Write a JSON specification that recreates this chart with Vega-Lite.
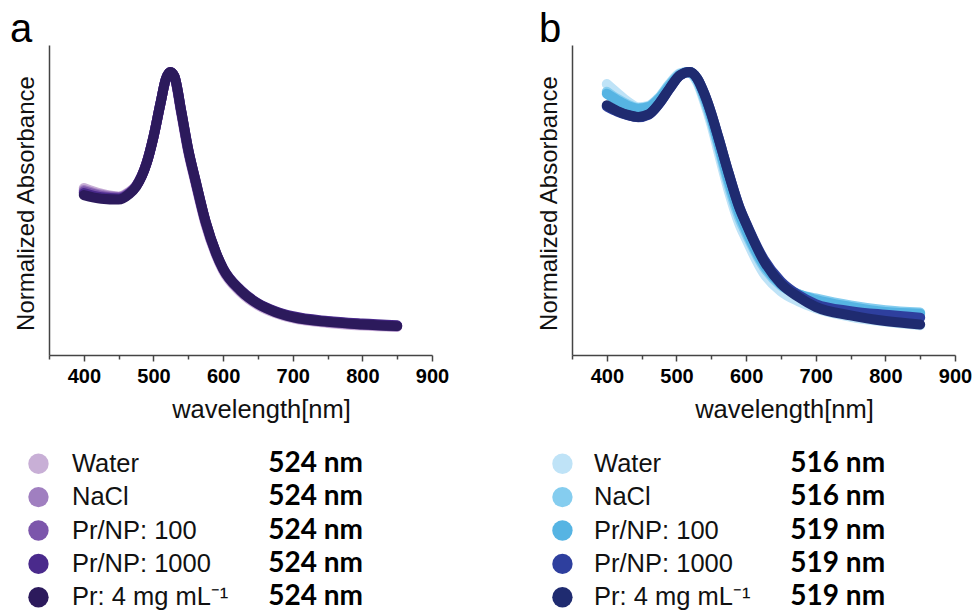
{
  "$schema": "https://vega.github.io/schema/vega-lite/v6.json",
  "padding": {"left": 10, "top": 10, "right": 0, "bottom": 0},
  "background": "white",
  "config": {"view": {"stroke": null}, "font": "Liberation Sans"},
  "datasets": {
    "spectra": [
      {"p":"a","s":"Water","wl":400,"v":0.59},{"p":"a","s":"Water","wl":425,"v":0.57},{"p":"a","s":"Water","wl":450,"v":0.56},{"p":"a","s":"Water","wl":465,"v":0.576},{"p":"a","s":"Water","wl":475,"v":0.598},{"p":"a","s":"Water","wl":490,"v":0.678},{"p":"a","s":"Water","wl":500,"v":0.77},{"p":"a","s":"Water","wl":510,"v":0.888},{"p":"a","s":"Water","wl":518,"v":0.976},{"p":"a","s":"Water","wl":524,"v":1.0},{"p":"a","s":"Water","wl":530,"v":0.982},{"p":"a","s":"Water","wl":540,"v":0.85},{"p":"a","s":"Water","wl":550,"v":0.715},{"p":"a","s":"Water","wl":560,"v":0.61},{"p":"a","s":"Water","wl":575,"v":0.46},{"p":"a","s":"Water","wl":590,"v":0.352},{"p":"a","s":"Water","wl":600,"v":0.298},{"p":"a","s":"Water","wl":625,"v":0.222},{"p":"a","s":"Water","wl":650,"v":0.176},{"p":"a","s":"Water","wl":675,"v":0.148},{"p":"a","s":"Water","wl":700,"v":0.13},{"p":"a","s":"Water","wl":750,"v":0.113},{"p":"a","s":"Water","wl":800,"v":0.104},{"p":"a","s":"Water","wl":850,"v":0.099},
      {"p":"a","s":"NaCl","wl":400,"v":0.583},{"p":"a","s":"NaCl","wl":425,"v":0.566},{"p":"a","s":"NaCl","wl":450,"v":0.558},{"p":"a","s":"NaCl","wl":465,"v":0.574},{"p":"a","s":"NaCl","wl":475,"v":0.597},{"p":"a","s":"NaCl","wl":490,"v":0.677},{"p":"a","s":"NaCl","wl":500,"v":0.77},{"p":"a","s":"NaCl","wl":510,"v":0.888},{"p":"a","s":"NaCl","wl":518,"v":0.976},{"p":"a","s":"NaCl","wl":524,"v":1.0},{"p":"a","s":"NaCl","wl":530,"v":0.984},{"p":"a","s":"NaCl","wl":540,"v":0.855},{"p":"a","s":"NaCl","wl":550,"v":0.72},{"p":"a","s":"NaCl","wl":560,"v":0.615},{"p":"a","s":"NaCl","wl":575,"v":0.465},{"p":"a","s":"NaCl","wl":590,"v":0.356},{"p":"a","s":"NaCl","wl":600,"v":0.302},{"p":"a","s":"NaCl","wl":625,"v":0.226},{"p":"a","s":"NaCl","wl":650,"v":0.179},{"p":"a","s":"NaCl","wl":675,"v":0.151},{"p":"a","s":"NaCl","wl":700,"v":0.133},{"p":"a","s":"NaCl","wl":750,"v":0.116},{"p":"a","s":"NaCl","wl":800,"v":0.107},{"p":"a","s":"NaCl","wl":850,"v":0.101},
      {"p":"a","s":"Pr/NP: 100","wl":400,"v":0.578},{"p":"a","s":"Pr/NP: 100","wl":425,"v":0.562},{"p":"a","s":"Pr/NP: 100","wl":450,"v":0.556},{"p":"a","s":"Pr/NP: 100","wl":465,"v":0.572},{"p":"a","s":"Pr/NP: 100","wl":475,"v":0.596},{"p":"a","s":"Pr/NP: 100","wl":490,"v":0.677},{"p":"a","s":"Pr/NP: 100","wl":500,"v":0.77},{"p":"a","s":"Pr/NP: 100","wl":510,"v":0.888},{"p":"a","s":"Pr/NP: 100","wl":518,"v":0.976},{"p":"a","s":"Pr/NP: 100","wl":524,"v":1.0},{"p":"a","s":"Pr/NP: 100","wl":530,"v":0.985},{"p":"a","s":"Pr/NP: 100","wl":540,"v":0.858},{"p":"a","s":"Pr/NP: 100","wl":550,"v":0.723},{"p":"a","s":"Pr/NP: 100","wl":560,"v":0.618},{"p":"a","s":"Pr/NP: 100","wl":575,"v":0.468},{"p":"a","s":"Pr/NP: 100","wl":590,"v":0.358},{"p":"a","s":"Pr/NP: 100","wl":600,"v":0.304},{"p":"a","s":"Pr/NP: 100","wl":625,"v":0.228},{"p":"a","s":"Pr/NP: 100","wl":650,"v":0.181},{"p":"a","s":"Pr/NP: 100","wl":675,"v":0.153},{"p":"a","s":"Pr/NP: 100","wl":700,"v":0.135},{"p":"a","s":"Pr/NP: 100","wl":750,"v":0.118},{"p":"a","s":"Pr/NP: 100","wl":800,"v":0.109},{"p":"a","s":"Pr/NP: 100","wl":850,"v":0.103},
      {"p":"a","s":"Pr/NP: 1000","wl":400,"v":0.572},{"p":"a","s":"Pr/NP: 1000","wl":425,"v":0.557},{"p":"a","s":"Pr/NP: 1000","wl":450,"v":0.553},{"p":"a","s":"Pr/NP: 1000","wl":465,"v":0.57},{"p":"a","s":"Pr/NP: 1000","wl":475,"v":0.595},{"p":"a","s":"Pr/NP: 1000","wl":490,"v":0.676},{"p":"a","s":"Pr/NP: 1000","wl":500,"v":0.77},{"p":"a","s":"Pr/NP: 1000","wl":510,"v":0.888},{"p":"a","s":"Pr/NP: 1000","wl":518,"v":0.976},{"p":"a","s":"Pr/NP: 1000","wl":524,"v":1.0},{"p":"a","s":"Pr/NP: 1000","wl":530,"v":0.985},{"p":"a","s":"Pr/NP: 1000","wl":540,"v":0.86},{"p":"a","s":"Pr/NP: 1000","wl":550,"v":0.725},{"p":"a","s":"Pr/NP: 1000","wl":560,"v":0.62},{"p":"a","s":"Pr/NP: 1000","wl":575,"v":0.47},{"p":"a","s":"Pr/NP: 1000","wl":590,"v":0.36},{"p":"a","s":"Pr/NP: 1000","wl":600,"v":0.306},{"p":"a","s":"Pr/NP: 1000","wl":625,"v":0.23},{"p":"a","s":"Pr/NP: 1000","wl":650,"v":0.183},{"p":"a","s":"Pr/NP: 1000","wl":675,"v":0.155},{"p":"a","s":"Pr/NP: 1000","wl":700,"v":0.137},{"p":"a","s":"Pr/NP: 1000","wl":750,"v":0.12},{"p":"a","s":"Pr/NP: 1000","wl":800,"v":0.111},{"p":"a","s":"Pr/NP: 1000","wl":850,"v":0.105},
      {"p":"a","s":"Pr: 4 mg mL⁻¹","wl":400,"v":0.565},{"p":"a","s":"Pr: 4 mg mL⁻¹","wl":425,"v":0.552},{"p":"a","s":"Pr: 4 mg mL⁻¹","wl":450,"v":0.549},{"p":"a","s":"Pr: 4 mg mL⁻¹","wl":465,"v":0.568},{"p":"a","s":"Pr: 4 mg mL⁻¹","wl":475,"v":0.594},{"p":"a","s":"Pr: 4 mg mL⁻¹","wl":490,"v":0.676},{"p":"a","s":"Pr: 4 mg mL⁻¹","wl":500,"v":0.77},{"p":"a","s":"Pr: 4 mg mL⁻¹","wl":510,"v":0.888},{"p":"a","s":"Pr: 4 mg mL⁻¹","wl":518,"v":0.976},{"p":"a","s":"Pr: 4 mg mL⁻¹","wl":524,"v":1.0},{"p":"a","s":"Pr: 4 mg mL⁻¹","wl":530,"v":0.985},{"p":"a","s":"Pr: 4 mg mL⁻¹","wl":540,"v":0.86},{"p":"a","s":"Pr: 4 mg mL⁻¹","wl":550,"v":0.725},{"p":"a","s":"Pr: 4 mg mL⁻¹","wl":560,"v":0.62},{"p":"a","s":"Pr: 4 mg mL⁻¹","wl":575,"v":0.47},{"p":"a","s":"Pr: 4 mg mL⁻¹","wl":590,"v":0.36},{"p":"a","s":"Pr: 4 mg mL⁻¹","wl":600,"v":0.305},{"p":"a","s":"Pr: 4 mg mL⁻¹","wl":625,"v":0.228},{"p":"a","s":"Pr: 4 mg mL⁻¹","wl":650,"v":0.181},{"p":"a","s":"Pr: 4 mg mL⁻¹","wl":675,"v":0.152},{"p":"a","s":"Pr: 4 mg mL⁻¹","wl":700,"v":0.134},{"p":"a","s":"Pr: 4 mg mL⁻¹","wl":750,"v":0.117},{"p":"a","s":"Pr: 4 mg mL⁻¹","wl":800,"v":0.108},{"p":"a","s":"Pr: 4 mg mL⁻¹","wl":850,"v":0.102},

      {"p":"b","s":"Water","wl":400,"v":0.957},{"p":"b","s":"Water","wl":415,"v":0.925},{"p":"b","s":"Water","wl":430,"v":0.895},{"p":"b","s":"Water","wl":445,"v":0.875},{"p":"b","s":"Water","wl":460,"v":0.88},{"p":"b","s":"Water","wl":475,"v":0.91},{"p":"b","s":"Water","wl":490,"v":0.958},{"p":"b","s":"Water","wl":505,"v":0.995},{"p":"b","s":"Water","wl":516,"v":1.0},{"p":"b","s":"Water","wl":530,"v":0.962},{"p":"b","s":"Water","wl":540,"v":0.895},{"p":"b","s":"Water","wl":550,"v":0.815},{"p":"b","s":"Water","wl":560,"v":0.72},{"p":"b","s":"Water","wl":575,"v":0.58},{"p":"b","s":"Water","wl":590,"v":0.465},{"p":"b","s":"Water","wl":600,"v":0.41},{"p":"b","s":"Water","wl":625,"v":0.29},{"p":"b","s":"Water","wl":650,"v":0.225},{"p":"b","s":"Water","wl":675,"v":0.19},{"p":"b","s":"Water","wl":700,"v":0.165},{"p":"b","s":"Water","wl":750,"v":0.135},{"p":"b","s":"Water","wl":800,"v":0.118},{"p":"b","s":"Water","wl":850,"v":0.105},
      {"p":"b","s":"NaCl","wl":400,"v":0.93},{"p":"b","s":"NaCl","wl":415,"v":0.905},{"p":"b","s":"NaCl","wl":430,"v":0.885},{"p":"b","s":"NaCl","wl":445,"v":0.872},{"p":"b","s":"NaCl","wl":460,"v":0.878},{"p":"b","s":"NaCl","wl":475,"v":0.908},{"p":"b","s":"NaCl","wl":490,"v":0.955},{"p":"b","s":"NaCl","wl":505,"v":0.993},{"p":"b","s":"NaCl","wl":516,"v":1.0},{"p":"b","s":"NaCl","wl":530,"v":0.968},{"p":"b","s":"NaCl","wl":540,"v":0.905},{"p":"b","s":"NaCl","wl":550,"v":0.83},{"p":"b","s":"NaCl","wl":560,"v":0.74},{"p":"b","s":"NaCl","wl":575,"v":0.6},{"p":"b","s":"NaCl","wl":590,"v":0.485},{"p":"b","s":"NaCl","wl":600,"v":0.43},{"p":"b","s":"NaCl","wl":625,"v":0.312},{"p":"b","s":"NaCl","wl":650,"v":0.245},{"p":"b","s":"NaCl","wl":675,"v":0.215},{"p":"b","s":"NaCl","wl":700,"v":0.2},{"p":"b","s":"NaCl","wl":750,"v":0.175},{"p":"b","s":"NaCl","wl":800,"v":0.158},{"p":"b","s":"NaCl","wl":850,"v":0.15},
      {"p":"b","s":"Pr/NP: 100","wl":400,"v":0.923},{"p":"b","s":"Pr/NP: 100","wl":415,"v":0.9},{"p":"b","s":"Pr/NP: 100","wl":430,"v":0.88},{"p":"b","s":"Pr/NP: 100","wl":445,"v":0.87},{"p":"b","s":"Pr/NP: 100","wl":460,"v":0.876},{"p":"b","s":"Pr/NP: 100","wl":475,"v":0.905},{"p":"b","s":"Pr/NP: 100","wl":490,"v":0.95},{"p":"b","s":"Pr/NP: 100","wl":505,"v":0.99},{"p":"b","s":"Pr/NP: 100","wl":519,"v":1.0},{"p":"b","s":"Pr/NP: 100","wl":530,"v":0.975},{"p":"b","s":"Pr/NP: 100","wl":540,"v":0.915},{"p":"b","s":"Pr/NP: 100","wl":550,"v":0.84},{"p":"b","s":"Pr/NP: 100","wl":560,"v":0.75},{"p":"b","s":"Pr/NP: 100","wl":575,"v":0.615},{"p":"b","s":"Pr/NP: 100","wl":590,"v":0.5},{"p":"b","s":"Pr/NP: 100","wl":600,"v":0.441},{"p":"b","s":"Pr/NP: 100","wl":625,"v":0.32},{"p":"b","s":"Pr/NP: 100","wl":650,"v":0.25},{"p":"b","s":"Pr/NP: 100","wl":675,"v":0.215},{"p":"b","s":"Pr/NP: 100","wl":700,"v":0.195},{"p":"b","s":"Pr/NP: 100","wl":750,"v":0.17},{"p":"b","s":"Pr/NP: 100","wl":800,"v":0.152},{"p":"b","s":"Pr/NP: 100","wl":850,"v":0.146},
      {"p":"b","s":"Pr/NP: 1000","wl":400,"v":0.878},{"p":"b","s":"Pr/NP: 1000","wl":415,"v":0.86},{"p":"b","s":"Pr/NP: 1000","wl":430,"v":0.847},{"p":"b","s":"Pr/NP: 1000","wl":445,"v":0.84},{"p":"b","s":"Pr/NP: 1000","wl":460,"v":0.849},{"p":"b","s":"Pr/NP: 1000","wl":475,"v":0.887},{"p":"b","s":"Pr/NP: 1000","wl":490,"v":0.94},{"p":"b","s":"Pr/NP: 1000","wl":505,"v":0.988},{"p":"b","s":"Pr/NP: 1000","wl":519,"v":1.0},{"p":"b","s":"Pr/NP: 1000","wl":530,"v":0.976},{"p":"b","s":"Pr/NP: 1000","wl":540,"v":0.923},{"p":"b","s":"Pr/NP: 1000","wl":550,"v":0.853},{"p":"b","s":"Pr/NP: 1000","wl":560,"v":0.77},{"p":"b","s":"Pr/NP: 1000","wl":575,"v":0.642},{"p":"b","s":"Pr/NP: 1000","wl":590,"v":0.525},{"p":"b","s":"Pr/NP: 1000","wl":600,"v":0.466},{"p":"b","s":"Pr/NP: 1000","wl":625,"v":0.34},{"p":"b","s":"Pr/NP: 1000","wl":650,"v":0.26},{"p":"b","s":"Pr/NP: 1000","wl":675,"v":0.212},{"p":"b","s":"Pr/NP: 1000","wl":700,"v":0.18},{"p":"b","s":"Pr/NP: 1000","wl":750,"v":0.155},{"p":"b","s":"Pr/NP: 1000","wl":800,"v":0.142},{"p":"b","s":"Pr/NP: 1000","wl":850,"v":0.132},
      {"p":"b","s":"Pr: 4 mg mL⁻¹","wl":400,"v":0.882},{"p":"b","s":"Pr: 4 mg mL⁻¹","wl":415,"v":0.862},{"p":"b","s":"Pr: 4 mg mL⁻¹","wl":430,"v":0.848},{"p":"b","s":"Pr: 4 mg mL⁻¹","wl":445,"v":0.841},{"p":"b","s":"Pr: 4 mg mL⁻¹","wl":460,"v":0.85},{"p":"b","s":"Pr: 4 mg mL⁻¹","wl":475,"v":0.888},{"p":"b","s":"Pr: 4 mg mL⁻¹","wl":490,"v":0.941},{"p":"b","s":"Pr: 4 mg mL⁻¹","wl":505,"v":0.988},{"p":"b","s":"Pr: 4 mg mL⁻¹","wl":519,"v":1.0},{"p":"b","s":"Pr: 4 mg mL⁻¹","wl":530,"v":0.976},{"p":"b","s":"Pr: 4 mg mL⁻¹","wl":540,"v":0.923},{"p":"b","s":"Pr: 4 mg mL⁻¹","wl":550,"v":0.853},{"p":"b","s":"Pr: 4 mg mL⁻¹","wl":560,"v":0.77},{"p":"b","s":"Pr: 4 mg mL⁻¹","wl":575,"v":0.641},{"p":"b","s":"Pr: 4 mg mL⁻¹","wl":590,"v":0.523},{"p":"b","s":"Pr: 4 mg mL⁻¹","wl":600,"v":0.464},{"p":"b","s":"Pr: 4 mg mL⁻¹","wl":625,"v":0.335},{"p":"b","s":"Pr: 4 mg mL⁻¹","wl":650,"v":0.252},{"p":"b","s":"Pr: 4 mg mL⁻¹","wl":675,"v":0.205},{"p":"b","s":"Pr: 4 mg mL⁻¹","wl":700,"v":0.17},{"p":"b","s":"Pr: 4 mg mL⁻¹","wl":750,"v":0.14},{"p":"b","s":"Pr: 4 mg mL⁻¹","wl":800,"v":0.12},{"p":"b","s":"Pr: 4 mg mL⁻¹","wl":850,"v":0.108}
    ],
    "legend": [
      {"p":"a","s":"Water","peak":"524 nm"},{"p":"a","s":"NaCl","peak":"524 nm"},{"p":"a","s":"Pr/NP: 100","peak":"524 nm"},{"p":"a","s":"Pr/NP: 1000","peak":"524 nm"},{"p":"a","s":"Pr: 4 mg mL⁻¹","peak":"524 nm"},
      {"p":"b","s":"Water","peak":"516 nm"},{"p":"b","s":"NaCl","peak":"516 nm"},{"p":"b","s":"Pr/NP: 100","peak":"519 nm"},{"p":"b","s":"Pr/NP: 1000","peak":"519 nm"},{"p":"b","s":"Pr: 4 mg mL⁻¹","peak":"519 nm"}
    ]
  },
  "spacing": 88,
  "resolve": {"scale": {"x": "independent", "y": "independent", "color": "independent"}},
  "hconcat": [
    {
      "spacing": 24,
      "resolve": {"scale": {"x": "independent", "y": "independent"}},
      "vconcat": [
        {
          "width": 383, "height": 310,
          "title": {"text": "a", "anchor": "start", "frame": "group", "fontSize": 40, "fontWeight": "normal", "color": "#000", "dx": -39, "offset": -5},
          "data": {"name": "spectra"},
          "transform": [{"filter": "datum.p == 'a'"}],
          "mark": {"type": "line", "strokeWidth": 10, "strokeCap": "round", "strokeJoin": "round", "interpolate": "monotone"},
          "encoding": {
            "x": {"field": "wl", "type": "quantitative", "scale": {"domain": [350, 900]},
              "axis": {"values": [350,400,450,500,550,600,650,700,750,800,850,900], "labelExpr": "datum.value % 100 === 0 ? datum.label : ''", "tickSize": {"condition": {"test": "datum.value % 100 === 0", "value": 6}, "value": 4}, "tickColor": "#444", "tickWidth": 1.5, "domainColor": "#444", "domainWidth": 1.5, "labelFontSize": 20, "labelFontWeight": "bold", "labelColor": "#000", "labelPadding": 5, "labelOverlap": false, "labelFlush": false, "grid": false, "title": "wavelength[nm]", "titleFontSize": 25.5, "titleFontWeight": "normal", "titleColor": "#111", "titlePadding": 11, "titleX": 212}},
            "y": {"field": "v", "type": "quantitative", "scale": {"domain": [0, 1.095]},
              "axis": {"title": "Normalized Absorbance", "labels": false, "ticks": false, "grid": false, "domainColor": "#444", "domainWidth": 1.5, "titleFontSize": 24, "titleFontWeight": "normal", "titleColor": "#111", "titlePadding": 11, "titleY": 158}},
            "color": {"field": "s", "type": "nominal", "scale": {"domain": ["Water","NaCl","Pr/NP: 100","Pr/NP: 1000","Pr: 4 mg mL⁻¹"], "range": ["#c8afd6","#a07fc0","#7c56ab","#4a2a8c","#2c1a5c"]}, "legend": null}
          }
        },
        {
          "width": 383, "height": 167,
          "data": {"name": "legend"},
          "transform": [{"filter": "datum.p == 'a'"}],
          "encoding": {
            "y": {"field": "s", "type": "nominal", "sort": null, "axis": null}
          },
          "layer": [
            {"mark": {"type": "circle", "size": 415, "opacity": 1},
             "encoding": {"x": {"datum": -11, "type": "quantitative", "scale": {"domain": [0, 383]}, "axis": null},
               "color": {"field": "s", "type": "nominal", "scale": {"domain": ["Water","NaCl","Pr/NP: 100","Pr/NP: 1000","Pr: 4 mg mL⁻¹"], "range": ["#c8afd6","#a07fc0","#7c56ab","#4a2a8c","#2c1a5c"]}, "legend": null}}},
            {"mark": {"type": "text", "align": "left", "fontSize": 25.5, "font": "Liberation Sans", "color": "#111"},
             "encoding": {"x": {"datum": 24, "type": "quantitative"}, "text": {"field": "s"}}},
            {"mark": {"type": "text", "align": "left", "fontSize": 28, "font": "Lato", "fontWeight": "bold", "color": "#000"},
             "encoding": {"x": {"datum": 229, "type": "quantitative"}, "text": {"field": "peak"}}}
          ]
        }
      ]
    },
    {
      "spacing": 24,
      "resolve": {"scale": {"x": "independent", "y": "independent"}},
      "vconcat": [
        {
          "width": 383, "height": 310,
          "title": {"text": "b", "anchor": "start", "frame": "group", "fontSize": 40, "fontWeight": "normal", "color": "#000", "dx": -33, "offset": -5},
          "data": {"name": "spectra"},
          "transform": [{"filter": "datum.p == 'b'"}],
          "mark": {"type": "line", "strokeWidth": 10, "strokeCap": "round", "strokeJoin": "round", "interpolate": "monotone"},
          "encoding": {
            "x": {"field": "wl", "type": "quantitative", "scale": {"domain": [350, 900]},
              "axis": {"values": [350,400,450,500,550,600,650,700,750,800,850,900], "labelExpr": "datum.value % 100 === 0 ? datum.label : ''", "tickSize": {"condition": {"test": "datum.value % 100 === 0", "value": 6}, "value": 4}, "tickColor": "#444", "tickWidth": 1.5, "domainColor": "#444", "domainWidth": 1.5, "labelFontSize": 20, "labelFontWeight": "bold", "labelColor": "#000", "labelPadding": 5, "labelOverlap": false, "labelFlush": false, "grid": false, "title": "wavelength[nm]", "titleFontSize": 25.5, "titleFontWeight": "normal", "titleColor": "#111", "titlePadding": 11, "titleX": 212}},
            "y": {"field": "v", "type": "quantitative", "scale": {"domain": [0, 1.095]},
              "axis": {"title": "Normalized Absorbance", "labels": false, "ticks": false, "grid": false, "domainColor": "#444", "domainWidth": 1.5, "titleFontSize": 24, "titleFontWeight": "normal", "titleColor": "#111", "titlePadding": 11, "titleY": 158}},
            "color": {"field": "s", "type": "nominal", "scale": {"domain": ["Water","NaCl","Pr/NP: 100","Pr/NP: 1000","Pr: 4 mg mL⁻¹"], "range": ["#bfe3f7","#85cdef","#56b4e3","#2e3f9e","#1f2b70"]}, "legend": null}
          }
        },
        {
          "width": 383, "height": 167,
          "data": {"name": "legend"},
          "transform": [{"filter": "datum.p == 'b'"}],
          "encoding": {
            "y": {"field": "s", "type": "nominal", "sort": null, "axis": null}
          },
          "layer": [
            {"mark": {"type": "circle", "size": 415, "opacity": 1},
             "encoding": {"x": {"datum": -10, "type": "quantitative", "scale": {"domain": [0, 383]}, "axis": null},
               "color": {"field": "s", "type": "nominal", "scale": {"domain": ["Water","NaCl","Pr/NP: 100","Pr/NP: 1000","Pr: 4 mg mL⁻¹"], "range": ["#bfe3f7","#85cdef","#56b4e3","#2e3f9e","#1f2b70"]}, "legend": null}}},
            {"mark": {"type": "text", "align": "left", "fontSize": 25.5, "font": "Liberation Sans", "color": "#111"},
             "encoding": {"x": {"datum": 23, "type": "quantitative"}, "text": {"field": "s"}}},
            {"mark": {"type": "text", "align": "left", "fontSize": 28, "font": "Lato", "fontWeight": "bold", "color": "#000"},
             "encoding": {"x": {"datum": 228, "type": "quantitative"}, "text": {"field": "peak"}}}
          ]
        }
      ]
    }
  ]
}
